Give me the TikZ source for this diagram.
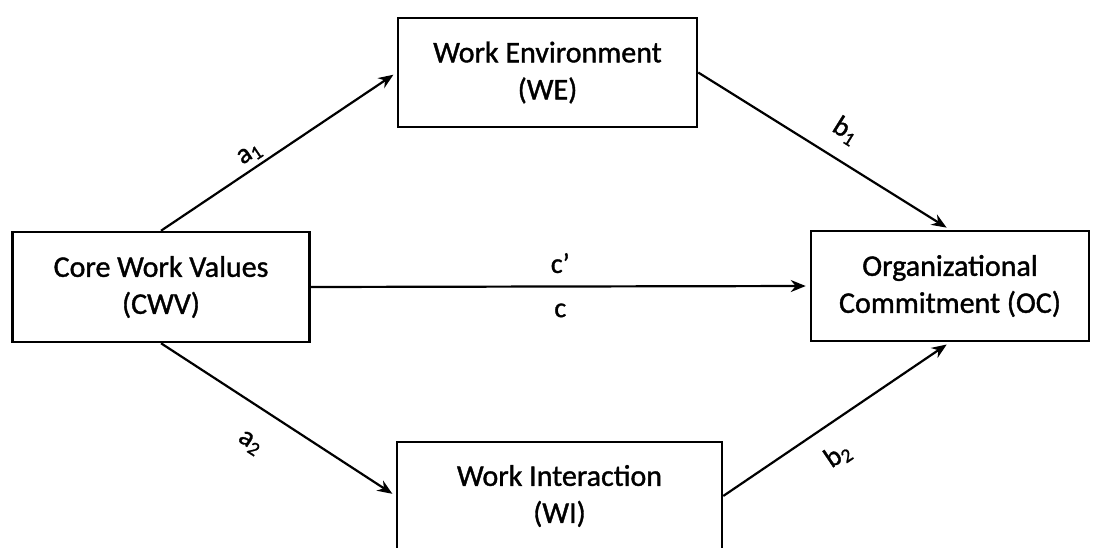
\documentclass[tikz,border=0pt]{standalone}
\usepackage{fontspec}
\setmainfont{Carlito}[FakeBold=1.2, AutoFakeBold=1.2]
\usetikzlibrary{arrows.meta}
\tikzset{
    box/.style={draw, line width=2.5pt, align=center, inner sep=0pt, font=\fontsize{30}{37}\selectfont\bfseries},
    weight/.style={font=\fontsize{28}{30}\selectfont\bfseries, inner sep=1pt, text height=14pt, text depth=4pt}
}

\begin{document}
\begin{tikzpicture}[
        x=1pt, y=-1pt,
        ->, >={Stealth[length=15pt, width=12pt]}, line width=2.2pt,
        shorten >=4pt
    ]
    \clip (0,0) rectangle (1099,548);

    \node[box, minimum width=297pt, minimum height=110pt] (CWV) at (161,287) {Core Work Values\\(CWV)};
    \node[box, minimum width=299pt, minimum height=109pt] (WE) at (547.5,72.5) {Work Environment\\(WE)};
    \node[box, minimum width=278pt, minimum height=110pt] (OC) at (950,286) {Organizational\\Commitment (OC)};
    \node[box, minimum width=325pt, minimum height=108pt] (WI) at (559.5,496) {Work Interaction\\(WI)};

    \path (CWV.north) edge node[weight, sloped, pos=0.41, above=3pt] {a\textsubscript{1}} (WE.west)
          (CWV.south) edge node[weight, sloped, pos=0.46, below=24pt] {a\textsubscript{2}} (WI.west)
          (CWV.east)  edge node[weight, above=7.5pt] {c’}
                           node[weight, below=14.5pt] {c} (OC.west)
          (WE.east)   edge node[weight, sloped, pos=0.525, above=15pt] {b\textsubscript{1}} (OC.north)
          (WI.east)   edge node[weight, sloped, pos=0.43, below=22pt] {b\textsubscript{2}} (OC.south);
\end{tikzpicture}
\end{document}
